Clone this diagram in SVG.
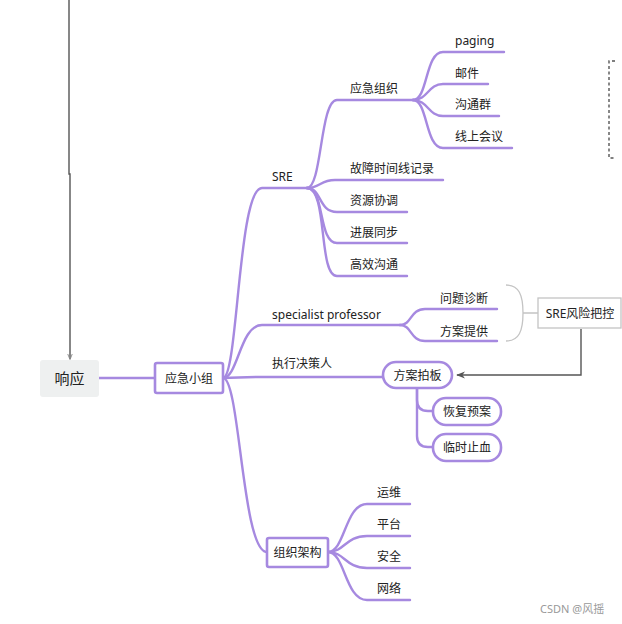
<svg xmlns="http://www.w3.org/2000/svg" width="622" height="624" viewBox="0 0 622 624">
<defs>
<style>
.t{font-family:"Noto Sans","Noto Sans CJK SC",sans-serif;font-size:12px;fill:#222}
.c{stroke:#a689e0;stroke-width:2.4;fill:none;stroke-linecap:round}
.bx{fill:#fff;stroke:#a689e0;stroke-width:2.6}
.gr{stroke:#c4c4c4;stroke-width:1.3;fill:none}
.dk{stroke:#555;stroke-width:1.4;fill:none}
</style>
<marker id="ah" viewBox="0 0 10 10" refX="9" refY="5" markerWidth="9" markerHeight="9" markerUnits="userSpaceOnUse" orient="auto">
<path d="M0,1 L10,5 L0,9 L3,5 Z" fill="#555"/>
</marker>
<marker id="ah2" viewBox="0 0 10 10" refX="9" refY="5" markerWidth="6" markerHeight="6" markerUnits="userSpaceOnUse" orient="auto">
<path d="M0,1 L10,5 L0,9" fill="none" stroke="#888" stroke-width="1.5"/>
</marker>
</defs>
<rect width="622" height="624" fill="#fff"/>
<g id="connectors">
<path class="dk" d="M69,0 L69,174 L70,174 L70,359" marker-end="url(#ah2)" stroke="#666"/>
<path class="c" d="M99,378 L155,378"/>
<path class="c" d="M223,378 C238,378 238,188 262,188 L307,188"/>
<path class="c" d="M307,188 C322,188 320,100 337,100 L413,100"/>
<path class="c" d="M413,100 C428,100 425,52 443,52 L504,52"/>
<path class="c" d="M413,100 C428,100 428,84 443,84 L488,84"/>
<path class="c" d="M413,100 C428,100 428,116 443,116 L499,116"/>
<path class="c" d="M413,100 C428,100 425,148 443,148 L512,148"/>
<path class="c" d="M307,188 C320,188 320,180 335,180 L443,180"/>
<path class="c" d="M307,188 C322,188 318,212 337,212 L407,212"/>
<path class="c" d="M307,188 C325,188 318,243 337,243 L407,243"/>
<path class="c" d="M307,188 C328,188 318,276 337,276 L407,276"/>
<path class="c" d="M223,378 C238,378 240,325 262,325 L400,325"/>
<path class="c" d="M400,325 C412,325 410,309 425,309 L497,309"/>
<path class="c" d="M400,325 C412,325 410,341 425,341 L497,341"/>
<path class="c" d="M223,378 C238,378 240,377 262,377 L383,377"/>
<path class="c" d="M417,389 L417,400 Q417,411 428,411 L433,411"/>
<path class="c" d="M417,389 L417,436 Q417,447 428,447 L433,447"/>
<path class="c" d="M223,378 C240,378 242,552 267,552"/>
<path class="c" d="M328,552 C345,552 345,504 367,504 L410,504"/>
<path class="c" d="M328,552 C345,552 345,536 367,536 L410,536"/>
<path class="c" d="M328,552 C345,552 345,568 367,568 L410,568"/>
<path class="c" d="M328,552 C345,552 345,600 367,600 L410,600"/>
<path class="gr" d="M506,285 C519,285 523,295 523,313 C523,331 519,341 506,341 M523,313 L538,313"/>
<path class="dk" d="M581,329 L581,375 L457,375" marker-end="url(#ah)"/>
<path d="M615,61 L609,61 L609,158 L615,158" fill="none" stroke="#555" stroke-width="1.4" stroke-dasharray="3,2.5"/>
</g>
<g id="n-xiangying">
<rect x="40" y="360" width="59" height="37" rx="3" fill="#eef0f0"/>
<text class="t" x="69.5" y="384" text-anchor="middle" style="font-size:15px">响应</text>
</g>
<g id="n-yingjixiaozu">
<rect class="bx" x="155" y="363" width="68" height="30" rx="2"/>
<text class="t" x="189" y="383" text-anchor="middle">应急小组</text>
</g>
<g id="n-sre"><text class="t" x="272" y="181">SRE</text></g>
<g id="n-yingjizuzhi"><text class="t" x="350" y="93">应急组织</text></g>
<g id="n-paging"><text class="t" x="455" y="45">paging</text></g>
<g id="n-youjian"><text class="t" x="455" y="78">邮件</text></g>
<g id="n-goutongqun"><text class="t" x="455" y="109">沟通群</text></g>
<g id="n-xianshanghuiyi"><text class="t" x="455" y="141">线上会议</text></g>
<g id="n-guzhang"><text class="t" x="350" y="173">故障时间线记录</text></g>
<g id="n-ziyuan"><text class="t" x="350" y="205">资源协调</text></g>
<g id="n-jinzhan"><text class="t" x="350" y="237">进展同步</text></g>
<g id="n-gaoxiao"><text class="t" x="350" y="269">高效沟通</text></g>
<g id="n-specialist"><text class="t" x="272" y="319">specialist professor</text></g>
<g id="n-wenti"><text class="t" x="440" y="303">问题诊断</text></g>
<g id="n-fangantigong"><text class="t" x="440" y="336">方案提供</text></g>
<g id="n-srefengxian">
<rect x="538" y="298" width="83" height="30" fill="#fff" stroke="#c4c4c4" stroke-width="1.3"/>
<text class="t" x="580" y="318" text-anchor="middle">SRE风险把控</text>
</g>
<g id="n-zhixing"><text class="t" x="272" y="368">执行决策人</text></g>
<g id="n-fanganpaiban">
<rect class="bx" x="383" y="362" width="69" height="26" rx="13"/>
<text class="t" x="417.5" y="380" text-anchor="middle">方案拍板</text>
</g>
<g id="n-huifu">
<rect class="bx" x="433" y="398" width="68" height="27" rx="13"/>
<text class="t" x="467" y="416" text-anchor="middle">恢复预案</text>
</g>
<g id="n-linshi">
<rect class="bx" x="433" y="434" width="68" height="27" rx="13"/>
<text class="t" x="467" y="452" text-anchor="middle">临时止血</text>
</g>
<g id="n-zuzhijiagou">
<rect class="bx" x="267" y="538" width="61" height="29" rx="2"/>
<text class="t" x="297.5" y="557" text-anchor="middle">组织架构</text>
</g>
<g id="n-yunwei"><text class="t" x="377" y="497">运维</text></g>
<g id="n-pingtai"><text class="t" x="377" y="529">平台</text></g>
<g id="n-anquan"><text class="t" x="377" y="561">安全</text></g>
<g id="n-wangluo"><text class="t" x="377" y="593">网络</text></g>
<text x="540" y="613" style="font-family:'Noto Sans','Noto Sans CJK SC',sans-serif;font-size:11px;fill:#999">CSDN @风摇</text>
</svg>
